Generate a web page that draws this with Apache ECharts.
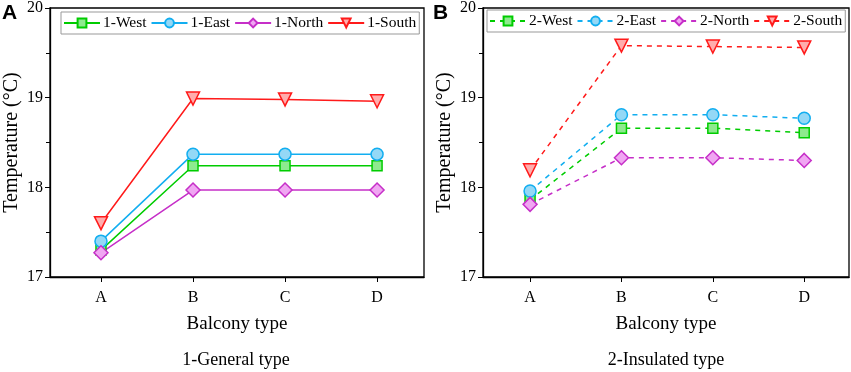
<!DOCTYPE html>
<html>
<head>
<meta charset="utf-8">
<script src="https://cdn.jsdelivr.net/npm/echarts@6/dist/echarts.min.js"></script>
<style>html,body{margin:0;padding:0;background:#fff;}#c{width:851px;height:372px;}</style>
</head>
<body>
<div id="c"></div>
<script>
var categories = ['A', 'B', 'C', 'D'];
var yTicks = [17, 18, 19, 20];
// Panel A: 1-General type
var gWest  = [17.30, 18.24, 18.24, 18.24];
var gEast  = [17.40, 18.37, 18.37, 18.37];
var gNorth = [17.27, 17.97, 17.97, 17.97];
var gSouth = [17.60, 18.99, 18.98, 18.96];
// Panel B: 2-Insulated type
var iWest  = [17.86, 18.66, 18.66, 18.61];
var iEast  = [17.96, 18.81, 18.81, 18.77];
var iNorth = [17.81, 18.33, 18.33, 18.30];
var iSouth = [18.19, 19.58, 19.57, 19.56];

var FONT = 'Liberation Serif';
var styles = {
  West:  {color: '#00cc00', fill: '#8eea8e', symbol: 'rect', size: 10, rot: 0},
  East:  {color: '#12aef0', fill: '#94d8f6', symbol: 'circle', size: 12, rot: 0},
  North: {color: '#c62fc8', fill: '#f0a6f2', symbol: 'diamond', size: 14, rot: 0},
  South: {color: '#ff1a1a', fill: '#ffadad', symbol: 'triangle', size: 13, rot: 180}
};
function pts(vals) { return vals.map(function (v, i) { return [i + 1, v]; }); }
function mk(name, key, vals, idx, dashed) {
  var s = styles[key];
  return {
    name: name, type: 'line', xAxisIndex: idx, yAxisIndex: idx,
    data: pts(vals), symbol: s.symbol, symbolSize: s.size, symbolRotate: s.rot,
    showAllSymbol: true,
    lineStyle: {color: s.color, width: 1.5, type: dashed ? [5, 5] : 'solid'},
    itemStyle: {color: s.fill, borderColor: s.color, borderWidth: 1.5, opacity: 1},
    emphasis: {disabled: true}, animation: false, z: 3
  };
}
function xAxis(idx, min, max) {
  return {
    type: 'value', gridIndex: idx, min: min, max: max,
    name: 'Balcony type', nameLocation: 'middle', nameGap: 38,
    nameTextStyle: {fontFamily: FONT, fontSize: 19, color: '#000'},
    axisLine: {show: true, onZero: false, lineStyle: {color: '#000', width: 1.3}},
    axisTick: {show: true, length: 5, inside: false, customValues: [1, 2, 3, 4], lineStyle: {color: '#000'}},
    axisLabel: {customValues: [1, 2, 3, 4], margin: 13, fontFamily: FONT, fontSize: 16, color: '#000',
      formatter: function (v) { return categories[Math.round(v) - 1]; }},
    splitLine: {show: false}
  };
}
function yAxis(idx) {
  return {
    type: 'value', gridIndex: idx, min: yTicks[0], max: yTicks[yTicks.length - 1], interval: 1,
    name: 'Temperature (°C)', nameLocation: 'middle', nameGap: 28, nameRotate: 90,
    nameTextStyle: {fontFamily: FONT, fontSize: 20, color: '#000'},
    axisLine: {show: true, lineStyle: {color: '#000', width: 1.3}},
    axisTick: {show: true, length: 5, inside: false, lineStyle: {color: '#000'}},
    minorTick: {show: true, splitNumber: 2, length: 4, lineStyle: {color: '#000'}},
    axisLabel: {margin: 7, fontFamily: FONT, fontSize: 16, color: '#000'},
    splitLine: {show: false}
  };
}
var chart = echarts.init(document.getElementById('c'), null, {renderer: 'canvas'});
chart.setOption({
  animation: false,
  backgroundColor: '#fff',
  grid: [
    {left: 50, top: 7, width: 374, height: 270, show: true, borderColor: '#000', borderWidth: 1.3, backgroundColor: 'transparent'},
    {left: 483, top: 7, width: 366, height: 270, show: true, borderColor: '#000', borderWidth: 1.3, backgroundColor: 'transparent'}
  ],
  xAxis: [xAxis(0, 0.446, 4.51), xAxis(1, 0.485, 4.49)],
  yAxis: [yAxis(0), yAxis(1)],
  legend: [
    {data: ['1-West', '1-East', '1-North', '1-South'], left: 61, top: 12, orient: 'horizontal',
     itemWidth: 36, itemHeight: 11, itemGap: 4, padding: [3, 3, 3, 2],
     borderColor: '#999', borderWidth: 1, backgroundColor: '#fff',
     textStyle: {fontFamily: FONT, fontSize: 15.5, color: '#000', padding: [0, 0, 0, -2]}},
    {data: ['2-West', '2-East', '2-North', '2-South'], left: 487, top: 10, orient: 'horizontal',
     itemWidth: 36, itemHeight: 11, itemGap: 4, padding: [3, 3, 3, 2],
     borderColor: '#999', borderWidth: 1, backgroundColor: '#fff',
     textStyle: {fontFamily: FONT, fontSize: 15.5, color: '#000', padding: [0, 0, 0, -2]}}
  ],
  title: [
    {text: '1-General type', left: 236, top: 351, textAlign: 'center', padding: 0,
     textStyle: {fontFamily: FONT, fontSize: 18, fontWeight: 'normal', color: '#000'}},
    {text: '2-Insulated type', left: 666, top: 351, textAlign: 'center', padding: 0,
     textStyle: {fontFamily: FONT, fontSize: 18, fontWeight: 'normal', color: '#000'}},
    {text: 'A', left: 2, top: 3, padding: 0,
     textStyle: {fontFamily: 'Liberation Sans', fontSize: 21, fontWeight: 'bold', color: '#000'}},
    {text: 'B', left: 433, top: 3, padding: 0,
     textStyle: {fontFamily: 'Liberation Sans', fontSize: 21, fontWeight: 'bold', color: '#000'}}
  ],
  series: [
    mk('1-West', 'West', gWest, 0, false),
    mk('1-East', 'East', gEast, 0, false),
    mk('1-North', 'North', gNorth, 0, false),
    mk('1-South', 'South', gSouth, 0, false),
    mk('2-West', 'West', iWest, 1, true),
    mk('2-East', 'East', iEast, 1, true),
    mk('2-North', 'North', iNorth, 1, true),
    mk('2-South', 'South', iSouth, 1, true)
  ]
});
</script>
</body>
</html>
